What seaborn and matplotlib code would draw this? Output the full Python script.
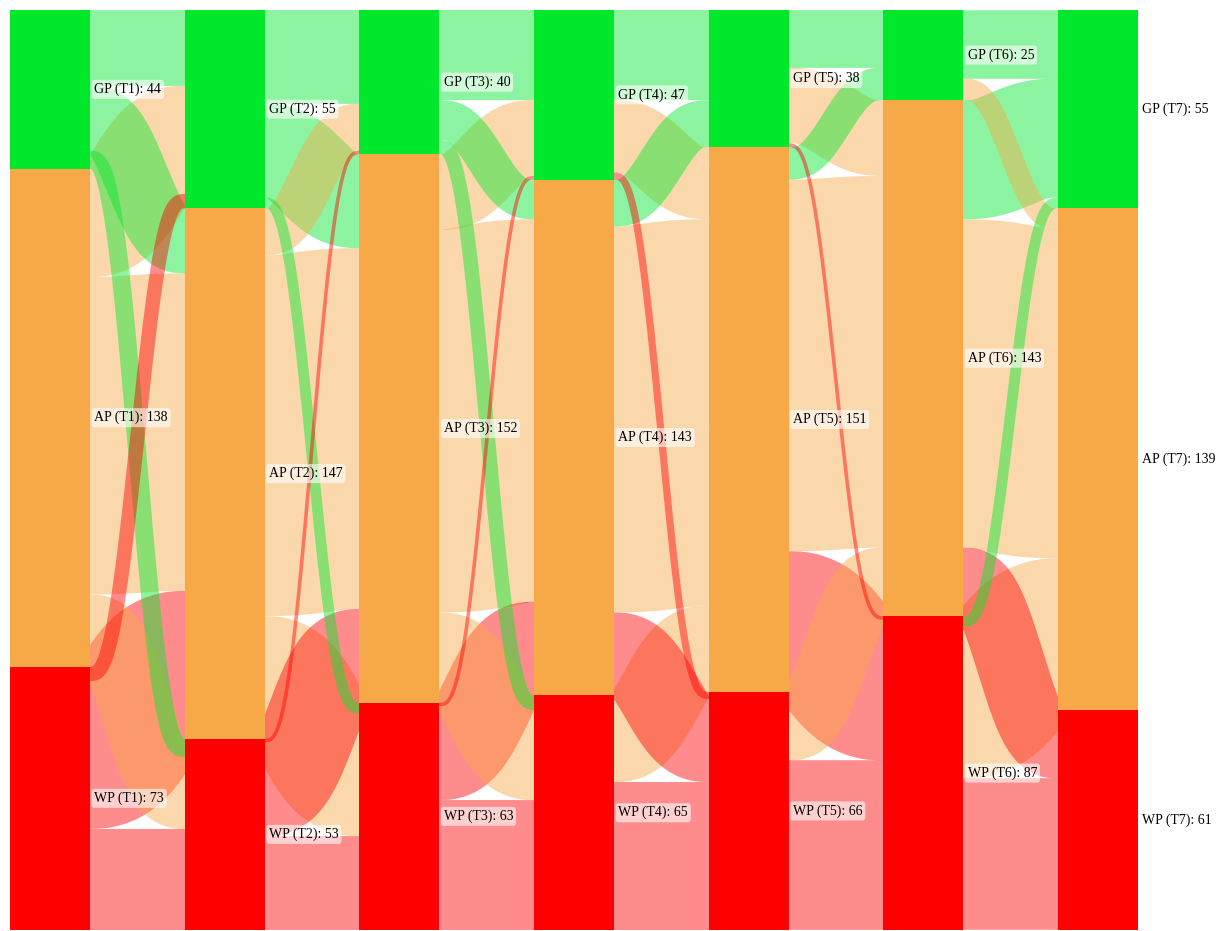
import numpy as np
import pandas as pd
import matplotlib
matplotlib.use('Agg')
import matplotlib.pyplot as plt
import seaborn as sns

categories = ['GP', 'AP', 'WP']
time_points = ['T1', 'T2', 'T3', 'T4', 'T5', 'T6', 'T7']
gp_counts = [44, 55, 40, 47, 38, 25, 55]
ap_counts = [138, 147, 152, 143, 151, 143, 139]
wp_counts = [73, 53, 63, 65, 66, 87, 61]

# transitions: rows = from (GP, AP, WP), cols = to (GP, AP, WP)
flows_t1_t2 = [[21, 18, 5], [30, 88, 20], [4, 41, 28]]
flows_t2_t3 = [[26, 26, 3], [13, 100, 34], [1, 26, 26]]
flows_t3_t4 = [[25, 11, 4], [21, 106, 25], [1, 26, 36]]
flows_t4_t5 = [[25, 20, 2], [13, 107, 23], [0, 24, 41]]
flows_t5_t6 = [[16, 21, 1], [9, 103, 39], [0, 19, 47]]
flows_t6_t7 = [[19, 6, 0], [33, 91, 19], [3, 42, 42]]

colors = ['#00e82c', '#f8a947', '#ff0000']
# first three transitions take the colour of the source, the rest of the target
color_by_target = [False, False, False, True, True, True]


def smoother(t):
    return t ** 3 * (10 - 15 * t + 6 * t ** 2)


sns.set_style('white')
plt.rcParams['font.family'] = ['Liberation Serif', 'DejaVu Serif']

W, H = 1222, 931
fig = plt.figure(figsize=(W / 100, H / 100), dpi=100)
ax_w_px, ax_h_px = 1128, 920
ax = fig.add_axes([10 / W, 1 / H, ax_w_px / W, ax_h_px / H])

counts = np.array([gp_counts, ap_counts, wp_counts])
total = counts.sum(axis=0).max()
bar_w = 80 / (ax_w_px - 80) * 6
tops = np.vstack([np.zeros(counts.shape[1]), np.cumsum(counts, axis=0)[:-1]])

# stacked bars: draw cumulative heights from the largest down
cum = np.cumsum(counts, axis=0)
for k in [2, 1, 0]:
    df = pd.DataFrame({'time': time_points, 'value': cum[k]})
    sns.barplot(data=df, x='time', y='value', color=colors[k], width=bar_w,
                saturation=1, linewidth=0, ax=ax, zorder=3)

px_per_unit = ax_h_px / total
lw_scale = px_per_unit * 72 / fig.dpi

transitions = [flows_t1_t2, flows_t2_t3, flows_t3_t4,
               flows_t4_t5, flows_t5_t6, flows_t6_t7]
t = np.linspace(0, 1, 150)
for k, flows in enumerate(transitions):
    F = np.array(flows)
    x0 = k + bar_w / 2
    x1 = k + 1 - bar_w / 2
    xs = np.concatenate([[k], x0 + (x1 - x0) * t, [k + 1]])
    links = []
    for i in range(3):
        for j in range(3):
            v = F[i, j]
            if v == 0:
                continue
            ys = tops[i, k] + F[i, :j].sum() + v / 2
            yt = tops[j, k + 1] + F[:i, j].sum() + v / 2
            links.append((v, i, j, ys, yt))
    # big links first, thin ones end up on top
    for v, i, j, ys, yt in sorted(links, key=lambda l: -l[0]):
        y = ys + (yt - ys) * smoother(t)
        y = np.concatenate([[ys], y, [yt]])
        c = colors[j] if color_by_target[k] else colors[i]
        ax.plot(xs, y, color=c, alpha=0.45, lw=v * lw_scale,
                solid_capstyle='butt', solid_joinstyle='round', zorder=1)

for k in range(len(time_points)):
    for i in range(3):
        yc = tops[i, k] + counts[i, k] / 2
        ax.text(k + bar_w / 2 + 0.025, yc,
                f'{categories[i]} ({time_points[k]}): {counts[i, k]}',
                ha='left', va='center', fontsize=10, color='black',
                zorder=5, clip_on=False,
                bbox=dict(boxstyle='round,pad=0.2', fc='white', ec='none', alpha=0.6))

ax.set_xlim(-bar_w / 2, 6 + bar_w / 2)
ax.set_ylim(total, 0)
ax.axis('off')

fig.savefig('out.png', dpi=100)
plt.close(fig)
